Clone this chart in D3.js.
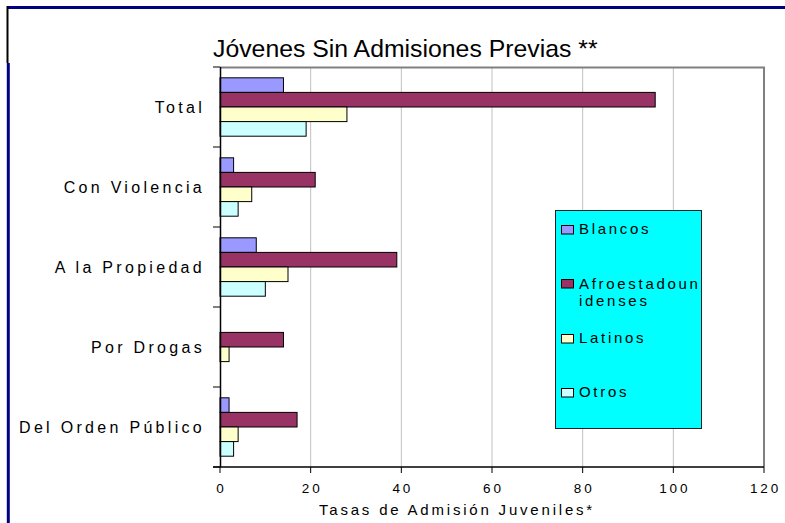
<!DOCTYPE html>
<html>
<head>
<meta charset="utf-8">
<script src="https://cdn.jsdelivr.net/npm/d3@7/dist/d3.min.js"></script>
<style>
  html, body { margin: 0; padding: 0; background: #fff; }
  svg { display: block; font-family: "Liberation Sans", Arial, sans-serif; }
</style>
</head>
<body>
<svg id="chart" width="785" height="523"></svg>
<script>
// Offence categories, top to bottom
const categories = ["Total", "Con Violencia", "A la Propiedad", "Por Drogas", "Del Orden Público"];
// Series (racial / ethnic groups)
const seriesNames = ["Blancos", "Afroestadounidenses", "Latinos", "Otros"];
const legendLabels = [["Blancos"], ["Afroestadoun", "idenses"], ["Latinos"], ["Otros"]];
// Admission rates per category, one array per series
const blancos   = [14, 3, 8, 0, 2];
const afro      = [96, 21, 39, 14, 17];
const latinos   = [28, 7, 15, 2, 4];
const otros     = [19, 4, 10, 0, 3];
const xTicks = [0, 20, 40, 60, 80, 100, 120];
const colors = ["#9999FF", "#993366", "#FFFFCC", "#CCFFFF"];

const seriesValues = [blancos, afro, latinos, otros];
const svg = d3.select("#chart");

// Outer frame
svg.append("line").attr("x1", 7).attr("x2", 785).attr("y1", 7.5).attr("y2", 7.5)
  .attr("stroke", "#000080").attr("stroke-width", 3);
svg.append("line").attr("x1", 7.5).attr("x2", 7.5).attr("y1", 6).attr("y2", 63)
  .attr("stroke", "#000").attr("stroke-width", 2);
svg.append("line").attr("x1", 8.3).attr("x2", 8.3).attr("y1", 63).attr("y2", 523)
  .attr("stroke", "#000080").attr("stroke-width", 3);

const x = d3.scaleLinear().domain([0, 120]).range([220, 764]);
const y = d3.scaleBand().domain(categories).range([67, 467]).paddingInner(0).paddingOuter(0);
const yInner = d3.scaleBand().domain(seriesNames).range([0, y.bandwidth()]).paddingInner(0).paddingOuter(0.74);

// Vertical gridlines
svg.append("g").selectAll("line").data(xTicks.filter(d => d > 0 && d < 120)).join("line")
  .attr("x1", d => x(d)).attr("x2", d => x(d)).attr("y1", 67).attr("y2", 467)
  .attr("stroke", "#C0C0C0").attr("stroke-width", 1);

// Plot area border (top and right)
svg.append("path")
  .attr("d", `M${x(0)},67.5 H${x(120)} V467`)
  .attr("fill", "none").attr("stroke", "#808080").attr("stroke-width", 2);

// Bars
const rows = [];
categories.forEach((c, i) => seriesNames.forEach((s, j) => rows.push({ c, s, j, v: seriesValues[j][i] })));
svg.append("g").selectAll("rect").data(rows.filter(d => d.v > 0)).join("rect")
  .attr("x", x(0))
  .attr("y", d => y(d.c) + yInner(d.s))
  .attr("width", d => x(d.v) - x(0))
  .attr("height", yInner.bandwidth())
  .attr("fill", d => colors[d.j])
  .attr("stroke", "#000").attr("stroke-width", 1);

// Category axis
const yAxis = svg.append("g");
yAxis.append("line").attr("x1", 220.5).attr("x2", 220.5).attr("y1", 67).attr("y2", 467)
  .attr("stroke", "#000").attr("stroke-width", 1.5);
const boundaries = categories.map(c => y(c)).concat([y.range()[1]]);
yAxis.selectAll("line.tk").data(boundaries).join("line").attr("class", "tk")
  .attr("x1", 213).attr("x2", 220).attr("y1", d => d).attr("y2", d => d)
  .attr("stroke", "#000").attr("stroke-width", 1);
yAxis.selectAll("text").data(categories).join("text")
  .attr("x", 205).attr("y", d => y(d) + y.bandwidth() / 2 + 6)
  .attr("text-anchor", "end").attr("font-size", 16).attr("letter-spacing", 3.3)
  .attr("fill", "#000").text(d => d);

// Value axis
const xAxis = svg.append("g");
xAxis.append("line").attr("x1", 213).attr("x2", x(120)).attr("y1", 467).attr("y2", 467)
  .attr("stroke", "#000").attr("stroke-width", 1.5);
xAxis.selectAll("line.tk").data(xTicks).join("line").attr("class", "tk")
  .attr("x1", d => x(d)).attr("x2", d => x(d)).attr("y1", 467).attr("y2", 473)
  .attr("stroke", "#000").attr("stroke-width", 1);
xAxis.selectAll("text").data(xTicks).join("text")
  .attr("x", d => x(d) + 1.5).attr("y", 493)
  .attr("text-anchor", "middle").attr("font-size", 13.5).attr("letter-spacing", 2.9)
  .attr("fill", "#000").text(d => d);

svg.append("text").attr("x", 457).attr("y", 515).attr("text-anchor", "middle")
  .attr("font-size", 15).attr("letter-spacing", 2.8).attr("fill", "#000")
  .text("Tasas de Admisión Juveniles*");

// Title
svg.append("text").attr("x", 213).attr("y", 57).attr("font-size", 24.8)
  .attr("fill", "#000").text("Jóvenes Sin Admisiones Previas **");

// Legend
const legend = svg.append("g");
legend.append("rect").attr("x", 555.5).attr("y", 210.5).attr("width", 146).attr("height", 218)
  .attr("fill", "#00FFFF").attr("stroke", "#222").attr("stroke-width", 1);
const swatchY = [225.5, 279.5, 334.5, 388.5];
const textY = [[234], [289, 306], [343], [397]];
seriesNames.forEach((s, i) => {
  legend.append("rect").attr("x", 561.5).attr("y", swatchY[i]).attr("width", 12).attr("height", 8.5)
    .attr("fill", colors[i]).attr("stroke", "#000").attr("stroke-width", 1);
  legendLabels[i].forEach((line, k) => {
    legend.append("text").attr("x", 579).attr("y", textY[i][k])
      .attr("font-size", 15).attr("letter-spacing", 2.7).attr("fill", "#000").text(line);
  });
});
</script>
</body>
</html>
